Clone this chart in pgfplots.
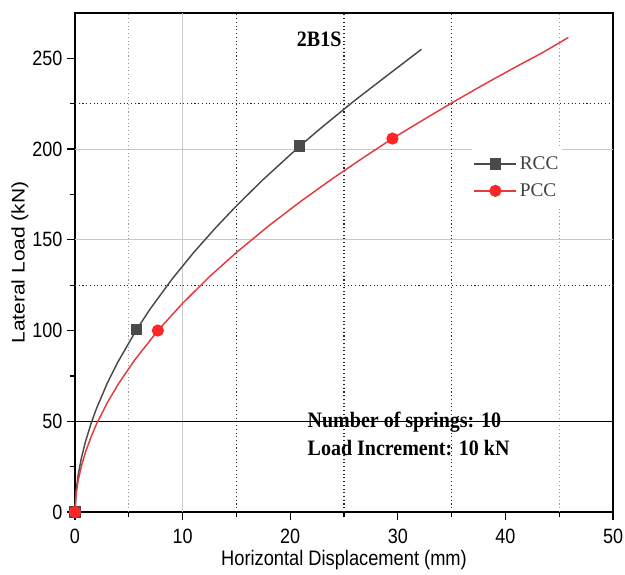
\documentclass[border=0pt]{standalone}
\usepackage{graphicx}
\usepackage{pgfplots}
\pgfplotsset{compat=1.18}
\usepackage{fontspec}
\setmainfont{Liberation Sans}
\newfontfamily\timesfont{Liberation Serif}
\definecolor{rccgray}{HTML}{4A4A4A}
\definecolor{pccred}{HTML}{E53B3E}
\definecolor{gridgray}{HTML}{C8C8C8}
\begin{document}
\begin{tikzpicture}
\begin{axis}[
  name=ax,
  scale only axis=true,
  width=403.5pt, height=374.25pt,
  xmin=0, xmax=50, ymin=0, ymax=275,
  xtick={0,10,20,30,40,50},
  ytick={0,50,100,150,200,250},
  minor xtick={5,15,25,35,45},
  minor ytick={25,75,125,175,225},
  tick align=outside,
  major tick length=6pt,
  minor tick length=4pt,
  tick style={black, line width=1pt},
  xtick pos=bottom, ytick pos=left,
  axis line style={line width=1.3pt},
  /pgf/number format/assume math mode=true,
  ticklabel style={font=\fontsize{13.5}{15}\selectfont},
  xticklabel={\scalebox{1}[1.15]{\pgfmathprintnumber{\tick}}},
  yticklabel={\scalebox{1}[1.15]{\pgfmathprintnumber{\tick}}},
  xticklabel style={yshift=-3pt},
  label style={font=\fontsize{13.7}{15}\selectfont},
  xlabel={\scalebox{1}[1.15]{Horizontal Displacement (mm)}},
  ylabel={\scalebox{1.15}[1]{Lateral Load (kN)}},
  ylabel shift=-4pt,
  xlabel shift=-2pt,
  clip=false,
  legend style={at={(axis cs:36.9,200.4)}, anchor=north west, draw=none, fill=white,
    font=\timesfont\fontsize{14.5}{16}\selectfont, text=black!75, row sep=5pt,
    inner xsep=1pt, inner ysep=4pt},
  legend cell align=left,
]
% grid decoration
\draw[gridgray, line width=0.6pt] (axis cs:10,0) -- (axis cs:10,275);
\draw[gridgray, line width=0.6pt] (axis cs:0,150) -- (axis cs:50,150);
\draw[gridgray, line width=0.6pt] (axis cs:0,200) -- (axis cs:50,200);
\draw[black!40, dotted, line width=0.8pt] (axis cs:5,0) -- (axis cs:5,275);
\draw[black!40, dotted, line width=0.8pt] (axis cs:45,0) -- (axis cs:45,275);
\draw[black!85, dotted, line width=0.8pt] (axis cs:15,0) -- (axis cs:15,275);
\draw[black!85, dotted, line width=0.8pt] (axis cs:25,0) -- (axis cs:25,275);
\draw[black!85, dotted, line width=0.8pt] (axis cs:35,0) -- (axis cs:35,275);
\draw[black!85, dotted, line width=0.8pt] (axis cs:0,125) -- (axis cs:50,125);
\draw[black!85, dotted, line width=0.8pt] (axis cs:0,225) -- (axis cs:50,225);
\draw[black, line width=0.8pt] (axis cs:0,50) -- (axis cs:50,50);

\addplot[rccgray, line width=1.1pt, mark=square*, mark size=3.6pt,
  mark options={fill=rccgray, draw=rccgray}, mark indices={1,10,17},
  legend image code/.code={\draw[mark indices={2}] plot coordinates {(0pt,0pt) (15.75pt,0pt) (31.5pt,0pt)};}]
coordinates {
(0,0) (0.1,11.4) (0.3,20.6) (0.6,29.9) (1,39.3) (1.5,48.9) (2,57.1) (3,71.0)
(4,82.8) (5.73,100.6) (7,112.0) (9,128.2) (11,142.8) (13,156.2) (15,168.7)
(17.5,183.3) (20.9,201.7) (23,212.3) (26,226.8) (29,240.5) (32.2,255.0)
};
\addlegendentry{RCC}
\addplot[pccred, line width=1.1pt, mark=*, mark size=4pt,
  mark options={fill=red!85!white, draw=red!85!white}, mark indices={1,11,19},
  legend image code/.code={\draw[mark indices={2}] plot coordinates {(0pt,0pt) (15.75pt,0pt) (31.5pt,0pt)};}]
coordinates {
(0,0) (0.1,9.7) (0.3,17.5) (0.6,25.4) (1,33.4) (1.5,41.5) (2,48.5) (3,60.2)
(4,70.3) (5.5,83.4) (7.7,100.0) (10,115.0) (12.5,129.7) (15,143.0) (18,157.7)
(21,171.3) (24,184.0) (27,196.1) (29.5,205.8) (32,214.8) (35,225.4) (38,235.6)
(41,245.4) (43.5,253.3) (45.85,261.5)
};
\addlegendentry{PCC}
\draw[gridgray, line width=0.8pt] (axis cs:36.9,171.8) -- (axis cs:45.1,171.8);

\node[anchor=base west, inner sep=0pt, font=\timesfont\bfseries\fontsize{15}{16}\selectfont] at (axis cs:20.6,256.6) {\scalebox{1}[1.1]{2B1S}};
\node[anchor=base west, inner sep=0pt, font=\timesfont\bfseries\fontsize{15}{16}\selectfont] at (axis cs:21.6,46.8) {\scalebox{1}[1.1]{Number of springs: 10}};
\node[anchor=base west, inner sep=0pt, font=\timesfont\bfseries\fontsize{15}{16}\selectfont] at (axis cs:21.6,31.4) {\scalebox{1}[1.1]{Load Increment: 10 kN}};
\end{axis}
\pgfresetboundingbox
\path[use as bounding box] ([shift={(-56.25pt,-46.5pt)}]ax.south west) rectangle ([shift={(9pt,9.75pt)}]ax.north east);
\end{tikzpicture}
\end{document}
